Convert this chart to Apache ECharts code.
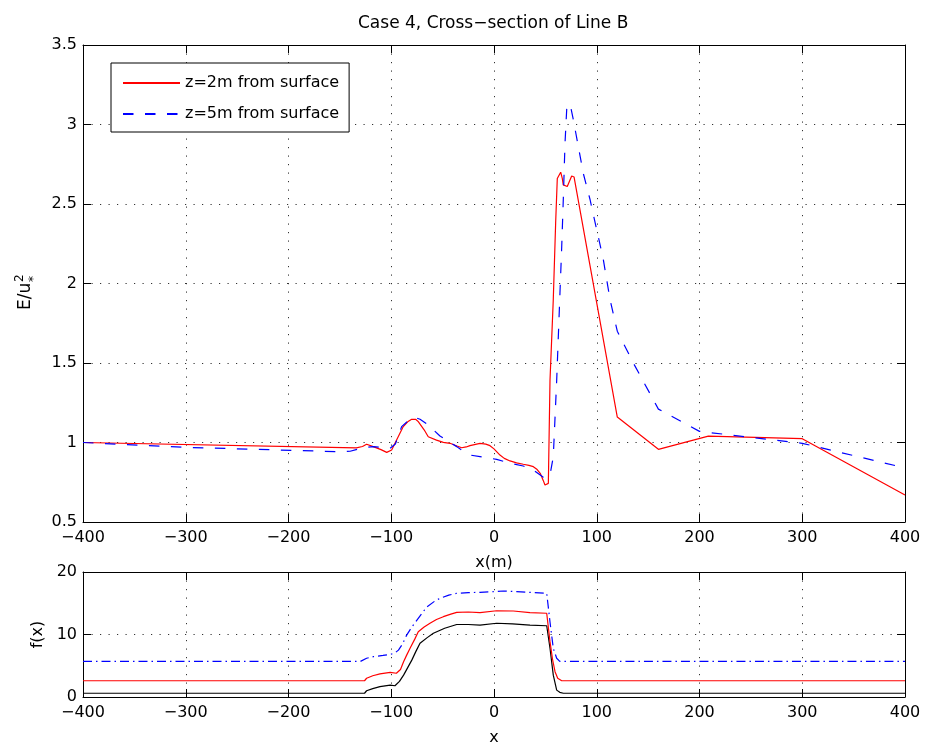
<!DOCTYPE html>
<html><head><meta charset="utf-8">
<script src="https://cdn.jsdelivr.net/npm/echarts@6/dist/echarts.min.js"></script>
<style>html,body{margin:0;padding:0;background:#fff}#c{width:927px;height:747px}</style>
</head><body><div id="c"></div>
<script>
// ---------- data ----------
const xTicks = [-400, -300, -200, -100, 0, 100, 200, 300, 400];
const eTicks = [0.5, 1, 1.5, 2, 2.5, 3, 3.5];
const fTicks = [0, 10, 20];

const red2mX = [-400, -134, -128, -124, -117.5, -110, -104.4, -99.6, -94.8, -88.3, -84, -80.1, -76, -73.7, -68, -64, -56, -49.3, -42.8, -36, -31.5, -27, -23.4, -13.6, -8, -3.9, 0, 5.8, 10, 15.6, 22, 28.5, 34, 38.3, 42, 45, 48, 49.6, 51.2, 52.9, 54.5, 57.7, 60, 61.6, 64.9, 66.5, 67.4, 71.3, 75.6, 77.9, 120, 160, 208.6, 300, 400];
const red2mE = [1.0, 0.966, 0.975, 0.989, 0.974, 0.955, 0.938, 0.953, 1.016, 1.10, 1.13, 1.146, 1.145, 1.131, 1.08, 1.036, 1.015, 1.001, 0.995, 0.978, 0.967, 0.972, 0.98, 0.995, 0.99, 0.98, 0.96, 0.921, 0.90, 0.884, 0.872, 0.863, 0.856, 0.848, 0.83, 0.806, 0.76, 0.733, 0.73, 0.743, 1.39, 1.90, 2.38, 2.66, 2.70, 2.66, 2.62, 2.61, 2.676, 2.67, 1.16, 0.957, 1.04, 1.024, 0.67];

const blue5mX = [-400, -302.7, -150, -140, -127.2, -117.5, -108, -101.3, -96, -89.9, -83, -76.9, -72, -66, -60.6, -52.6, -44, -36.3, -30, -23.4, -13.6, 2.6, 10, 18.8, 28.5, 38.3, 44, 48, 51, 54.5, 57.7, 61, 64.2, 65.9, 67.5, 69.1, 70.8, 74, 77.2, 82.1, 87, 93.4, 99.9, 106.4, 112.9, 120, 135.6, 160, 200, 300, 400];
const blue5mE = [1.0, 0.97, 0.942, 0.945, 0.967, 0.974, 0.968, 0.963, 0.99, 1.10, 1.14, 1.158, 1.146, 1.12, 1.089, 1.041, 1.005, 0.974, 0.945, 0.921, 0.911, 0.894, 0.88, 0.865, 0.852, 0.827, 0.80, 0.781, 0.78, 0.796, 0.911, 1.39, 1.94, 2.23, 2.54, 2.88, 3.10, 3.13, 3.03, 2.86, 2.69, 2.53, 2.34, 2.15, 1.90, 1.70, 1.50, 1.21, 1.07, 0.995, 0.84];

const fBlackX = [-400, -126, -124, -118, -111, -101, -96.4, -92, -88, -84, -80, -76, -72, -65, -59, -48, -36.3, -25, -13.6, 2.6, 18, 35, 51.3, 54.5, 57.7, 61, 64, 67.5, 400];
const fBlackY = [0.6, 0.6, 1.0, 1.35, 1.65, 1.9, 1.8, 2.5, 3.5, 4.7, 5.9, 7.3, 8.6, 9.5, 10.2, 11.0, 11.6, 11.6, 11.5, 11.8, 11.7, 11.5, 11.4, 7.8, 3.5, 1.1, 0.75, 0.6, 0.6];

const fRedX = [-400, -126, -124, -118, -111, -101, -95, -91, -88, -85, -81.7, -77, -73.7, -68, -62.3, -56, -49.3, -42, -36.3, -25, -13.6, 2.6, 18.8, 35, 51.3, 54.5, 57, 59.4, 62, 65.9, 400];
const fRedY = [2.6, 2.6, 3.0, 3.4, 3.7, 3.95, 3.8, 4.4, 5.65, 6.7, 7.8, 9.3, 10.45, 11.2, 11.8, 12.4, 12.85, 13.25, 13.55, 13.6, 13.5, 13.8, 13.76, 13.5, 13.4, 8.85, 6.0, 4.05, 3.0, 2.6, 2.6];

const fBlueX = [-400, -130, -124, -117.5, -108, -101, -96, -93, -89, -85, -80, -75, -70, -65.5, -58, -52.6, -44, -36.3, -25, -13.6, 0, 9, 22, 35, 51.3, 54.5, 57.7, 61, 64, 400];
const fBlueY = [5.7, 5.7, 6.2, 6.45, 6.65, 6.8, 7.1, 7.5, 8.5, 9.9, 11.2, 12.3, 13.4, 14.4, 15.3, 15.8, 16.3, 16.6, 16.7, 16.75, 16.85, 16.96, 16.85, 16.75, 16.6, 12, 7.8, 6.2, 5.7, 5.7];

const zip = (xs, ys) => xs.map((x, i) => [x, ys[i]]);

// ---------- styling ----------
const FONT = "'DejaVu Sans', sans-serif";
const fmtX = v => (v < 0 ? '\u2212' + Math.abs(v) : String(v));
const grid0 = { left: 83, top: 45, width: 822, height: 477 };
const grid1 = { left: 83, top: 572, width: 822, height: 125 };

function xAx(gridIndex, pos, labels, name) {
  return {
    type: 'value', gridIndex, position: pos,
    min: xTicks[0], max: xTicks[xTicks.length - 1], interval: xTicks[1] - xTicks[0],
    axisLine: { show: true, onZero: false, lineStyle: { color: '#000', width: 1 } },
    axisTick: { show: true, inside: true, length: 8, lineStyle: { color: '#000' } },
    axisLabel: { show: labels, margin: 8, color: '#000', fontSize: 16, fontFamily: FONT, formatter: fmtX, showMinLabel: true, showMaxLabel: true },
    splitLine: { show: labels, lineStyle: { color: '#333', width: 1, type: [1.2, 7.3] } },
    name: name || '', nameLocation: 'middle', nameGap: 33,
    nameTextStyle: { color: '#000', fontSize: 16, fontFamily: FONT }
  };
}
function yAx(gridIndex, pos, ticks, labels, name, gap) {
  return {
    type: 'value', gridIndex, position: pos,
    min: ticks[0], max: ticks[ticks.length - 1], interval: ticks[1] - ticks[0],
    axisLine: { show: true, onZero: false, lineStyle: { color: '#000', width: 1 } },
    axisTick: { show: true, inside: true, length: 8, lineStyle: { color: '#000' } },
    axisLabel: { show: labels, margin: 6, color: '#000', fontSize: 16, fontFamily: FONT, showMinLabel: true, showMaxLabel: true },
    splitLine: { show: labels, lineStyle: { color: '#333', width: 1, type: [1.2, 7.3] } },
    name: name || '', nameLocation: 'middle', nameRotate: 90, nameGap: gap || 35,
    nameTextStyle: { color: '#000', fontSize: 16, fontFamily: FONT }
  };
}

const chart = echarts.init(document.getElementById('c'), null, { renderer: 'canvas' });
chart.setOption({
  animation: false,
  backgroundColor: '#fff',
  title: {
    text: 'Case 4, Cross\u2212section of Line B', left: 358, top: 15, padding: 0,
    textStyle: { color: '#000', fontSize: 17, fontWeight: 'normal', fontFamily: FONT }
  },
  legend: {
    data: ['z=2m from surface', 'z=5m from surface'],
    orient: 'vertical', left: 111, top: 63,
    padding: [12, 10, 10, 11], itemGap: 15, itemWidth: 57, itemHeight: 14,
    backgroundColor: '#fff', borderColor: '#000', borderWidth: 1, borderRadius: 0,
    itemStyle: { opacity: 0 },
    textStyle: { color: '#000', fontSize: 16, fontFamily: FONT }
  },
  grid: [
    Object.assign({ outerBoundsMode: 'none', containLabel: false }, grid0),
    Object.assign({ outerBoundsMode: 'none', containLabel: false }, grid1)
  ],
  xAxis: [
    xAx(0, 'bottom', true, 'x(m)'),
    xAx(0, 'top', false),
    xAx(1, 'bottom', true, 'x'),
    xAx(1, 'top', false)
  ],
  yAxis: [
    yAx(0, 'left', eTicks, true, ''),
    yAx(0, 'right', eTicks, false),
    yAx(1, 'left', fTicks, true, 'f(x)', 35),
    yAx(1, 'right', fTicks, false)
  ],
  graphic: [{
    type: 'group', x: 32, y: 310, rotation: Math.PI / 2,
    children: [
      { type: 'text', x: 0, y: -6, style: { text: 'E/u', fontSize: 17, fontFamily: FONT, fill: '#000', align: 'left', verticalAlign: 'middle' } },
      { type: 'text', x: 28, y: -12, style: { text: '2', fontSize: 12, fontFamily: FONT, fill: '#000', align: 'left', verticalAlign: 'middle' } },
      { type: 'text', x: 28, y: 2, style: { text: '*', fontSize: 12, fontFamily: FONT, fill: '#000', align: 'left', verticalAlign: 'middle' } }
    ]
  }],
  series: [
    { name: 'z=2m from surface', type: 'line', xAxisIndex: 0, yAxisIndex: 0, data: zip(red2mX, red2mE),
      symbol: 'none', lineStyle: { color: '#ff0000', width: 1.2 }, itemStyle: { color: '#ff0000' } },
    { name: 'z=5m from surface', type: 'line', xAxisIndex: 0, yAxisIndex: 0, data: zip(blue5mX, blue5mE),
      symbol: 'none', lineStyle: { color: '#0000ff', width: 1.2, type: [10.5, 11.5] }, itemStyle: { color: '#0000ff' } },
    { name: 'f black', type: 'line', xAxisIndex: 2, yAxisIndex: 2, data: zip(fBlackX, fBlackY),
      symbol: 'none', lineStyle: { color: '#000', width: 1.2 } },
    { name: 'f red', type: 'line', xAxisIndex: 2, yAxisIndex: 2, data: zip(fRedX, fRedY),
      symbol: 'none', lineStyle: { color: '#ff0000', width: 1.2 } },
    { name: 'f blue', type: 'line', xAxisIndex: 2, yAxisIndex: 2, data: zip(fBlueX, fBlueY),
      symbol: 'none', lineStyle: { color: '#0000ff', width: 1.2, type: [9, 4, 1.5, 4] } }
  ]
});
</script></body></html>
